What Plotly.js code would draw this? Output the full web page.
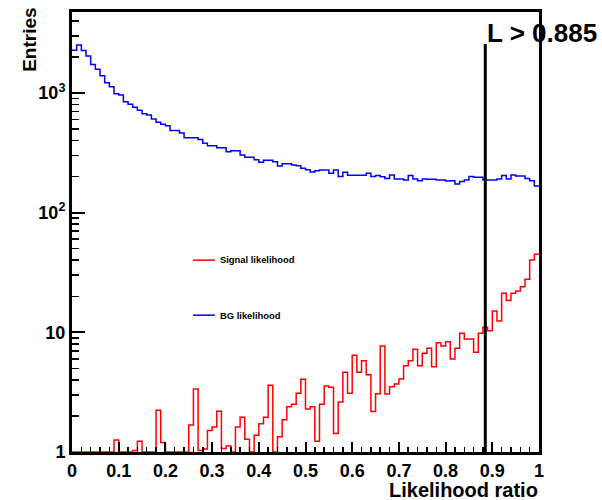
<!DOCTYPE html>
<html>
<head>
<meta charset="utf-8">
<script src="https://cdn.plot.ly/plotly-3.0.1.min.js"></script>
<style>html,body{margin:0;padding:0;background:#fff;}#chart{width:602px;height:500px;}</style>
</head>
<body>
<div id="chart"></div>
<script>
// Histogram binning: 100 bins from 0 to 1
const binLow = 0.0;
const binWidth = 0.01;
const cutValue = 0.885;

// BG likelihood (blue), entries per bin
const bgCounts = [
  2270, 2510, 2260, 2030, 1730, 1575, 1390, 1215, 1125, 985,
  960, 845, 805, 760, 715, 670, 655, 605, 570, 547,
  532, 485, 485, 462, 422, 422, 422, 409, 379, 362,
  362, 349, 349, 323, 329, 329, 303, 290, 290, 277,
  263, 274, 274, 266, 245, 256, 256, 250, 246, 235,
  228, 218, 224, 227, 227, 213, 227, 200, 217, 205,
  205, 205, 205, 213, 200, 204, 199, 193, 206, 191,
  191, 187, 204, 191, 185, 191, 190, 190, 187, 187,
  184, 185, 173, 182, 187, 200, 197, 197, 187, 187,
  187, 191, 204, 191, 206, 202, 202, 193, 185, 167
];

// Signal likelihood (red), weighted entries per bin (0 = empty bin)
const signalCounts = [
  0, 0, 0, 0, 0, 0, 0, 0, 0, 1.26,
  0, 0, 0, 1.03, 1.23, 0, 0, 0, 2.23, 1.2,
  0, 0, 0, 0, 0, 1.68, 3.36, 1.03, 1.06, 1.51,
  1.62, 2.19, 1.07, 1.12, 0, 1.62, 1.95, 1.28, 0, 1.38,
  1.72, 1.95, 3.61, 0, 1.34, 1.86, 2.39, 2.50, 3.09, 4.05,
  2.29, 2.39, 1.23, 2.50, 3.56, 3.47, 1.43, 2.62, 4.63, 3.09,
  6.42, 4.63, 5.79, 4.43, 2.18, 3.07, 7.7, 3.05, 3.51, 3.70,
  4.07, 5.26, 5.79, 7.21, 5.26, 6.67, 7.35, 5.16, 8.19, 7.7,
  8.35, 5.98, 7.35, 9.81, 8.79, 8.79, 6.80, 9.81, 11.0, 10.3,
  15.1, 12.4, 21.2, 18.4, 21.2, 22.1, 24.0, 27.7, 40.2, 44.9
];

const xTickVals = [0, 0.1, 0.2, 0.3, 0.4, 0.5, 0.6, 0.7, 0.8, 0.9, 1];
const yTickVals = [1, 10, 100, 1000];
const yTickText = ['1', '10', '10<sup>2</sup>', '10<sup>3</sup>'];

const xTitle = 'Likelihood ratio';
const yTitle = 'Entries';
const cutLabel = 'L > 0.885';
const signalName = 'Signal likelihood';
const bgName = 'BG likelihood';

// minor tick positions (axis decoration)
const xMinor = [];
for (let k = 0; k <= 50; k++) xMinor.push(+(k * 0.02).toFixed(2));
const yMinor = [];
[1, 10, 100, 1000].forEach(d => { for (let m = 2; m <= 9; m++) if (m * d < 4800) yMinor.push(m * d); });

// step-histogram helper: points at bin low edges plus final upper edge
function stepTrace(counts, color, floor) {
  const xs = [], ys = [];
  for (let i = 0; i < counts.length; i++) {
    xs.push(binLow + i * binWidth);
    ys.push(Math.max(counts[i], floor));
  }
  xs.push(binLow + counts.length * binWidth);
  ys.push(Math.max(counts[counts.length - 1], floor));
  return {
    x: xs, y: ys, type: 'scatter', mode: 'lines',
    line: {shape: 'hv', color: color, width: 1.5},
    hoverinfo: 'skip', showlegend: false
  };
}

const FONT = 'Liberation Sans, Arial, Helvetica, sans-serif';

const data = [
  stepTrace(bgCounts, '#0000ff', 1),
  stepTrace(signalCounts, '#ff0000', 1)
];

const layout = {
  width: 602, height: 500,
  margin: {l: 72, r: 63, t: 12, b: 48, pad: 0},
  paper_bgcolor: '#ffffff', plot_bgcolor: '#ffffff',
  showlegend: false,
  xaxis: {
    range: [0, 1], tickmode: 'array', tickvals: xTickVals,
    ticks: 'inside', ticklen: 10, tickwidth: 2, tickcolor: '#000',
    minor: {tickmode: 'array', tickvals: xMinor, ticks: 'inside', ticklen: 5, tickwidth: 1.5, tickcolor: '#000', showgrid: false},
    showline: true, linewidth: 3, linecolor: '#000', mirror: true,
    showgrid: false, zeroline: false,
    tickfont: {family: FONT, size: 18, weight: 'bold', color: '#000'}
  },
  yaxis: {
    type: 'log', range: [0, 3.676],
    tickmode: 'array', tickvals: yTickVals, ticktext: yTickText,
    ticks: 'inside', ticklen: 13, tickwidth: 2, tickcolor: '#000',
    minor: {tickmode: 'array', tickvals: yMinor, ticks: 'inside', ticklen: 7, tickwidth: 1.5, tickcolor: '#000', showgrid: false},
    showline: true, linewidth: 3, linecolor: '#000', mirror: true,
    showgrid: false, zeroline: false,
    tickfont: {family: FONT, size: 18, weight: 'bold', color: '#000'}
  },
  shapes: [
    {type: 'line', xref: 'x', yref: 'paper', x0: cutValue, x1: cutValue, y0: 0, y1: 0.927,
     line: {color: '#000', width: 3}},
    {type: 'line', xref: 'paper', yref: 'paper', x0: 0.259, x1: 0.306, y0: 0.436, y1: 0.436,
     line: {color: '#ff0000', width: 1.5}},
    {type: 'line', xref: 'paper', yref: 'paper', x0: 0.259, x1: 0.306, y0: 0.311, y1: 0.311,
     line: {color: '#0000ff', width: 1.5}}
  ],
  annotations: [
    {text: yTitle, xref: 'paper', yref: 'paper', x: -0.09, y: 1.014, xanchor: 'center', yanchor: 'top',
     textangle: -90, showarrow: false, font: {family: FONT, size: 19, weight: 'bold', color: '#000'}},
    {text: xTitle, xref: 'paper', yref: 'paper', x: 1.003, y: -0.086, xanchor: 'right', yanchor: 'middle',
     showarrow: false, font: {family: FONT, size: 20, weight: 'bold', color: '#000'}},
    {text: cutLabel, xref: 'x', yref: 'paper', x: cutValue, y: 0.952, xanchor: 'left', yanchor: 'middle',
     showarrow: false, font: {family: FONT, size: 26, weight: 'bold', color: '#000'}},
    {text: signalName, xref: 'paper', yref: 'paper', x: 0.312, y: 0.438, xanchor: 'left', yanchor: 'middle',
     showarrow: false, font: {family: FONT, size: 9.4, weight: 'bold', color: '#000'}},
    {text: bgName, xref: 'paper', yref: 'paper', x: 0.312, y: 0.311, xanchor: 'left', yanchor: 'middle',
     showarrow: false, font: {family: FONT, size: 9.4, weight: 'bold', color: '#000'}}
  ]
};

Plotly.newPlot('chart', data, layout, {staticPlot: true, displayModeBar: false});
</script>
</body>
</html>
